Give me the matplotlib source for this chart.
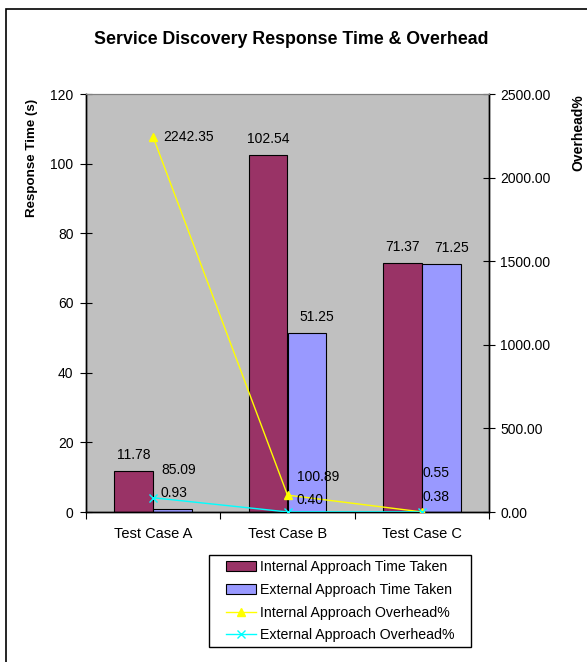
import matplotlib
matplotlib.use("Agg")
import matplotlib.pyplot as plt
from matplotlib.patches import Rectangle
import numpy as np

plt.rcParams['font.family'] = ['Liberation Sans', 'DejaVu Sans']

categories = ["Test Case A", "Test Case B", "Test Case C"]
internal_time = [11.78, 102.54, 71.37]
external_time = [0.93, 51.25, 71.25]
internal_overhead = [2242.35, 100.89, 0.55]
external_overhead = [85.09, 0.40, 0.38]
left_ticks = [0, 20, 40, 60, 80, 100, 120]
right_ticks = [0, 500, 1000, 1500, 2000, 2500]

W, H = 587, 662
fig = plt.figure(figsize=(W / 100, H / 100), dpi=100)
fig.patch.set_facecolor('white')

# outer chart border
fig.patches.append(Rectangle((6 / W, -0.05), 1.2, 1 - 9 / H + 0.05,
                             transform=fig.transFigure, fill=False,
                             edgecolor='black', linewidth=1.2, zorder=0))

ax = fig.add_axes([86 / W, 1 - 512 / H, (489 - 86) / W, (512 - 94) / H])
ax.set_facecolor('#C0C0C0')
ax2 = ax.twinx()

x = np.arange(len(categories))
bw = 0.288
b1 = ax.bar(x - bw / 2, internal_time, bw, color='#993366', edgecolor='black',
            linewidth=0.8, label='Internal Approach Time Taken', zorder=2)
b2 = ax.bar(x + bw / 2, external_time, bw, color='#9999FF', edgecolor='black',
            linewidth=0.8, label='External Approach Time Taken', zorder=2)

l1, = ax2.plot(x, internal_overhead, color='#FFFF00', marker='^', markersize=6,
               linewidth=1.0, label='Internal Approach Overhead%', zorder=3)
l2, = ax2.plot(x, external_overhead, color='#00FFFF', marker='x', markersize=6,
               markeredgewidth=1.0, linewidth=1.0,
               label='External Approach Overhead%', zorder=3)

ax.set_xlim(-0.5, 2.5)
ax.set_ylim(0, 120)
ax2.set_ylim(0, 2500)
ax.set_yticks(left_ticks)
ax2.set_yticks(right_ticks)
ax2.set_yticklabels([f"{v:.2f}" for v in right_ticks])

ax.set_xticks(x)
ax.set_xticklabels(categories)
ax.set_xticks([-0.5, 0.5, 1.5, 2.5], minor=True)
ax.tick_params(axis='x', which='major', length=0, pad=11, labelsize=10.5)
ax.tick_params(axis='x', which='minor', length=5, direction='out', width=0.8)
ax.tick_params(axis='y', length=8, direction='inout', width=0.8, pad=5, labelsize=10)
ax2.tick_params(axis='y', length=8, direction='inout', width=0.8, pad=4, labelsize=10)

for a in (ax, ax2):
    a.spines['top'].set_color('#808080')
    a.spines['top'].set_linewidth(0.8)
    a.spines['left'].set_linewidth(1.0)
    a.spines['right'].set_linewidth(1.0)
    a.spines['bottom'].set_linewidth(1.0)

# data labels
fs = 10
ext_dx = [1, 10, 10]
for i in range(len(categories)):
    ax.annotate(f"{internal_time[i]:.2f}", (x[i] - bw / 2, internal_time[i]),
                xytext=(0, 16), textcoords='offset pixels', ha='center',
                va='center', fontsize=fs, zorder=5)
    ax.annotate(f"{external_time[i]:.2f}", (x[i] + bw / 2, external_time[i]),
                xytext=(ext_dx[i], 16), textcoords='offset pixels', ha='center',
                va='center', fontsize=fs, zorder=5)

int_off = [(10, 0), (10, 18), (1, 39)]
ext_off = [(8, 28), (9, 12), (1, 15)]
for i in range(len(categories)):
    ax2.annotate(f"{internal_overhead[i]:.2f}", (x[i], internal_overhead[i]),
                 xytext=int_off[i], textcoords='offset pixels', ha='left',
                 va='center', fontsize=fs, zorder=5)
    ax2.annotate(f"{external_overhead[i]:.2f}", (x[i], external_overhead[i]),
                 xytext=ext_off[i], textcoords='offset pixels', ha='left',
                 va='center', fontsize=fs, zorder=5)

fig.text(0.5 - 2 / W, 1 - 40 / H, "Service Discovery Response Time & Overhead",
         ha='center', va='center', fontsize=12.8, fontweight='bold')
fig.text(32 / W, 1 - 158 / H, "Response Time (s)", rotation=90, ha='center',
         va='center', fontsize=9.6, fontweight='bold')
fig.text(578 / W, 1 - 133 / H, "Overhead%", rotation=90, ha='center',
         va='center', fontsize=10, fontweight='bold')

# legend box drawn separately, entries placed inside
fig.patches.append(Rectangle((209 / W, 1 - 647 / H), (471 - 209) / W, (647 - 555) / H,
                             transform=fig.transFigure, facecolor='white',
                             edgecolor='black', linewidth=1.0, zorder=1))
leg = fig.legend(handles=[b1, b2, l1, l2], loc='upper left',
                 bbox_to_anchor=(226 / W, 1 - 560 / H), borderaxespad=0,
                 fontsize=10.2, frameon=False,
                 handlelength=2.1, handletextpad=0.3, labelspacing=0.62,
                 borderpad=0)

fig.savefig('out.png', dpi=100)
